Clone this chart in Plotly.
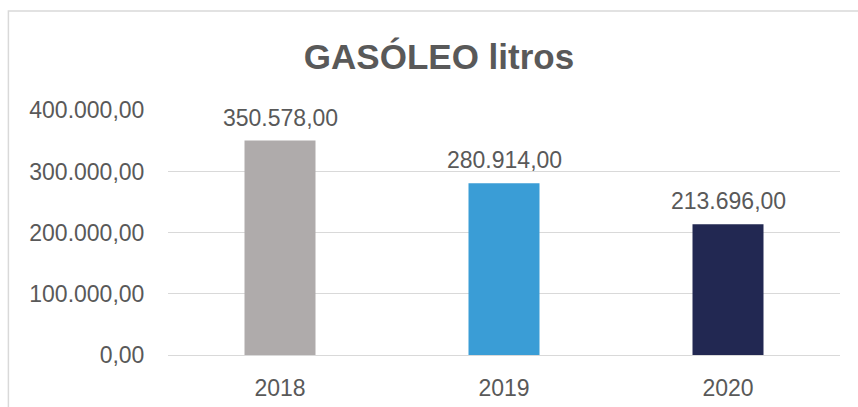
import plotly.graph_objects as go

# Diesel consumption per year (litres)
years = ["2018", "2019", "2020"]
litres = [350578.00, 280914.00, 213696.00]
bar_colors = ["#AFABAB", "#3A9DD6", "#222852"]
y_ticks = [0, 100000, 200000, 300000, 400000]


def es_format(v):
    """Format a number as 123.456,00 (Spanish style)."""
    s = f"{v:,.2f}"
    return s.replace(",", "X").replace(".", ",").replace("X", ".")


TEXT = "#595959"
GRID = "#D9D9D9"
FONT = "Liberation Sans, Arial, sans-serif"

fig = go.Figure(
    go.Bar(
        x=years,
        y=litres,
        marker=dict(color=bar_colors, line=dict(width=0)),
        hoverinfo="skip",
    )
)

# value labels above each bar (category axis: position by serial number)
for i, v in enumerate(litres):
    fig.add_annotation(
        x=i, y=v, xref="x", yref="y",
        text=es_format(v),
        showarrow=False,
        yanchor="bottom",
        yshift=8,
        font=dict(family=FONT, size=23, color=TEXT),
    )

# chart frame (left and top edges visible in the window)
fig.add_shape(
    type="rect", xref="paper", yref="paper",
    x0=-0.2375, x1=1.06, y0=-0.3, y1=1.404,
    line=dict(color=GRID, width=1.5),
    fillcolor="rgba(0,0,0,0)",
    layer="below",
)

fig.update_layout(
    width=858,
    height=407,
    margin=dict(l=168, r=18, t=110, b=52, autoexpand=False),
    paper_bgcolor="white",
    plot_bgcolor="white",
    bargap=0.683,
    showlegend=False,
    font=dict(family=FONT, color=TEXT),
    title=dict(
        text="<b>GASÓLEO litros</b>",
        x=439 / 858, xref="container", xanchor="center",
        y=1 - 56.5 / 407, yref="container", yanchor="middle",
        font=dict(family=FONT, size=35, color=TEXT),
    ),
    xaxis=dict(
        type="category",
        range=[-0.5, len(years) - 0.5],
        showgrid=False,
        showline=False,
        ticks="outside",
        ticklen=12,
        tickcolor="rgba(0,0,0,0)",
        tickfont=dict(family=FONT, size=23, color=TEXT),
    ),
    yaxis=dict(
        range=[0, 400500],
        tickvals=y_ticks,
        ticktext=[es_format(t) for t in y_ticks],
        showgrid=True,
        gridcolor=GRID,
        gridwidth=1.3,
        zeroline=True,
        zerolinecolor=GRID,
        zerolinewidth=1.3,
        showline=False,
        ticks="outside",
        ticklen=18,
        tickcolor="rgba(0,0,0,0)",
        tickfont=dict(family=FONT, size=23, color=TEXT),
    ),
)

fig.write_html("out.html")
